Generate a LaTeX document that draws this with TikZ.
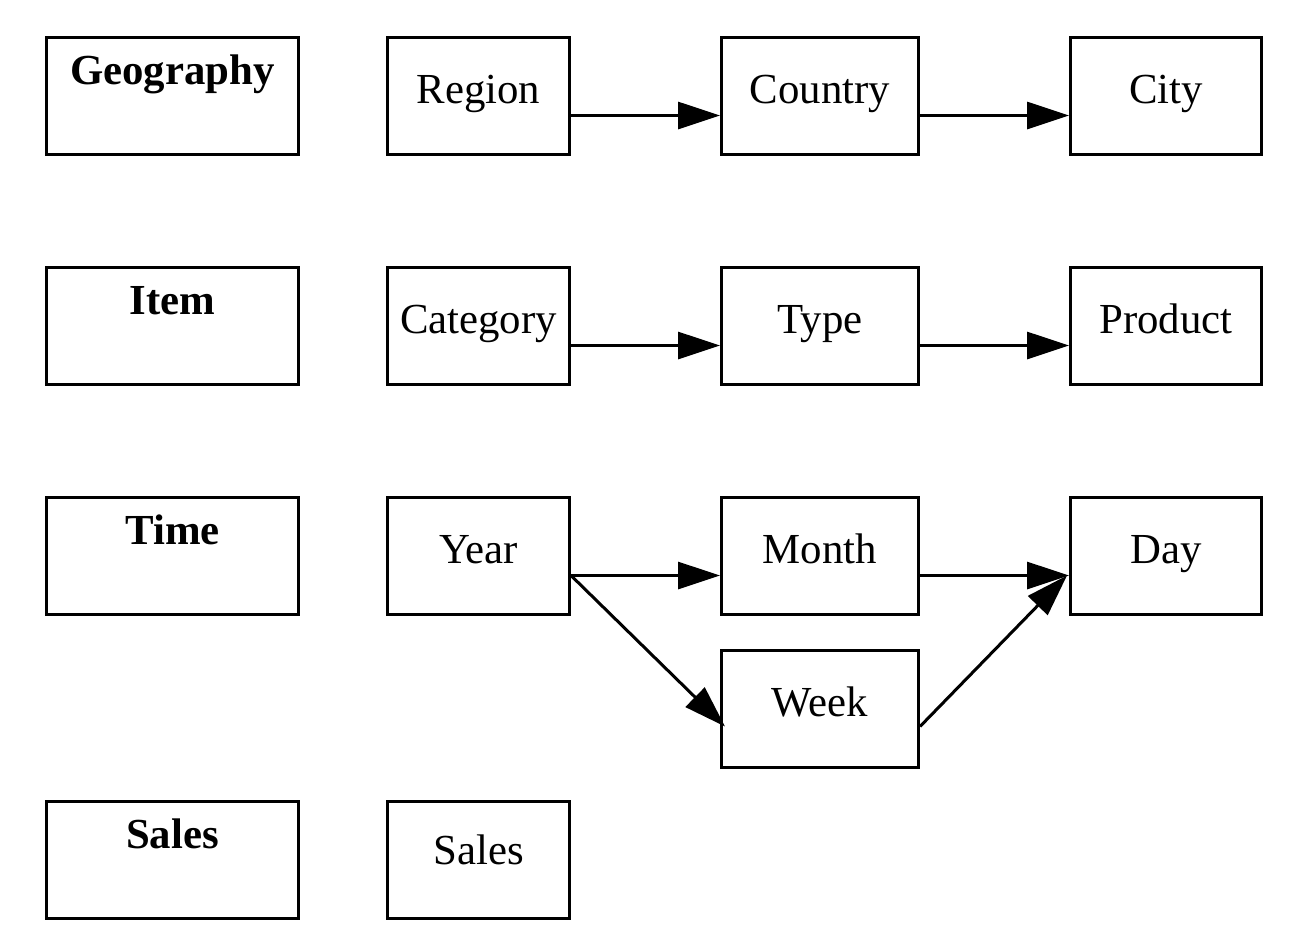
\documentclass[tikz,border=0pt]{standalone}
\usepackage{fontspec}
\setmainfont{Liberation Serif}
\usetikzlibrary{arrows.meta}
\begin{document}
\begin{tikzpicture}[x=0.5pt,y=-0.5pt,
  every node/.style={font=\fontsize{21.4}{24}\selectfont},
  box/.style={draw, line width=1.5pt, inner sep=0pt, align=center,
    text height=32.85pt, text depth=25.65pt, anchor=north west},
  dimbox/.style={box, font=\fontsize{21.4}{24}\selectfont\bfseries,
    text height=23.5pt, text depth=35pt},
  wA/.style={text width=126pt},
  wB/.style={text width=91pt},
  wC/.style={text width=98.5pt},
  wD/.style={text width=95.5pt},
  edge/.style={line width=1.5pt, -{Triangle[length=21pt,width=13.5pt]}}]
\useasboundingbox (0,0) rectangle (1310,928);
% left column
\node[dimbox,wA] (geo)   at (45,36)  {Geography};
\node[dimbox,wA] (item)  at (45,266) {Item};
\node[dimbox,wA] (time)  at (45,496) {Time};
\node[dimbox,wA] (salesd) at (45,800) {Sales};
% geography
\node[box,wB] (region)  at (386,36)  {Region};
\node[box,wC] (country) at (720,36)  {Country};
\node[box,wD] (city)    at (1069,36) {City};
% item
\node[box,wB] (category) at (386,266)  {Category};
\node[box,wC] (type)     at (720,266)  {Type};
\node[box,wD] (product)  at (1069,266) {Product};
% time
\node[box,wB] (year)  at (386,496)  {Year};
\node[box,wC] (month) at (720,496)  {Month};
\node[box,wD] (day)   at (1069,496) {Day};
\node[box,wC] (week)  at (720,649)  {Week};
% sales
\node[box,wB,text height=31.3pt,text depth=27.2pt] (sales) at (386,800) {Sales};
% edges
\draw[edge] ([yshift=-9.75pt]region.east) -- ([yshift=-9.75pt]country.west);
\draw[edge] ([yshift=-9.75pt]country.east) -- ([yshift=-9.75pt]city.west);
\draw[edge] ([yshift=-9.75pt]category.east) -- ([yshift=-9.75pt]type.west);
\draw[edge] ([yshift=-9.75pt]type.east) -- ([yshift=-9.75pt]product.west);
\draw[edge] ([yshift=-9.75pt]year.east) -- ([yshift=-9.75pt]month.west);
\draw[edge] ([yshift=-9.75pt]month.east) -- ([yshift=-9.75pt]day.west);
\draw[edge] ([yshift=-9.75pt]year.east) -- ([xshift=2.5pt,yshift=-8.75pt]week.west);
\draw[edge] ([yshift=-8.75pt]week.east) -- ([xshift=-1pt,yshift=-9.75pt]day.west);
\end{tikzpicture}
\end{document}
